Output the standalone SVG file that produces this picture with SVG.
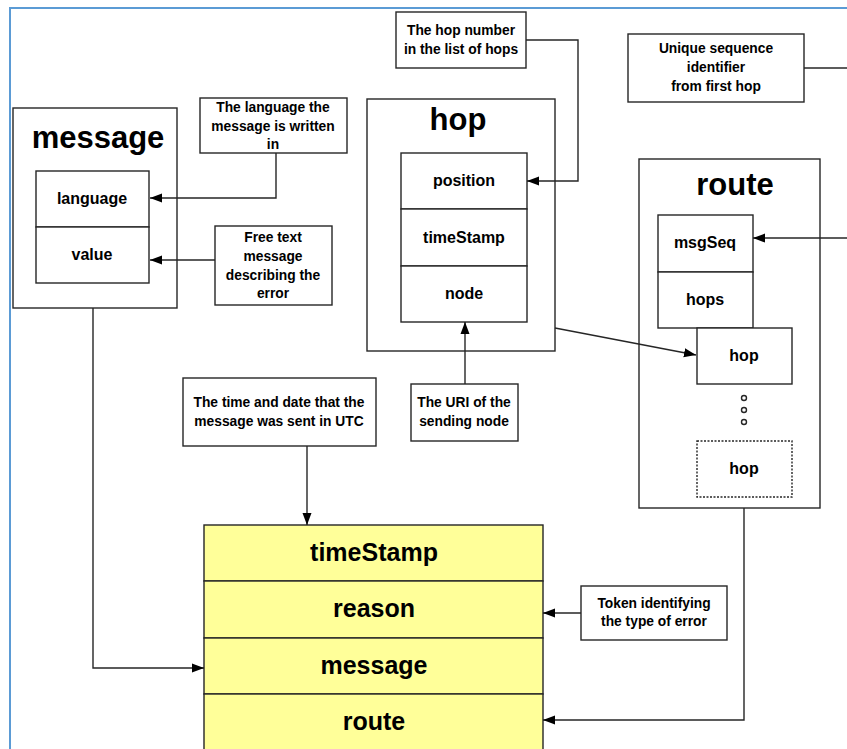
<svg xmlns="http://www.w3.org/2000/svg" width="847" height="749" viewBox="0 0 847 749">
<defs>
<style>
.box{fill:#fff;stroke:#262626;stroke-width:1.4}
.yel{fill:#ffff99;stroke:#262626;stroke-width:1.4}
.dot{fill:#fff;stroke:#262626;stroke-width:1.4;stroke-dasharray:2 1.5}
.ln{fill:none;stroke:#262626;stroke-width:1.4}
text{font-family:"Liberation Sans",Arial,sans-serif;font-weight:bold;fill:#000;text-anchor:middle}
.t1{font-size:31px}
.t2{font-size:16px}
.t3{font-size:25px}
.c{font-size:13.8px}
</style>
<marker id="ah" markerWidth="12" markerHeight="10" refX="12" refY="5" orient="auto" markerUnits="userSpaceOnUse"><path d="M0,0.5 L12,5 L0,9.5 z" fill="#000"/></marker>
</defs>
<rect width="847" height="749" fill="#fff"/>
<rect x="10" y="8" width="900" height="900" fill="none" stroke="#5b9bd5" stroke-width="2"/>

<g id="message">
<rect class="box" x="13" y="108" width="164" height="200"/>
<text class="t1" x="98" y="148">message</text>
<rect class="box" x="36" y="171" width="113" height="56"/>
<text class="t2" x="92" y="204">language</text>
<rect class="box" x="36" y="227" width="113" height="56"/>
<text class="t2" x="92" y="260">value</text>
</g>

<g id="note-language">
<rect class="box" x="200" y="98" width="147" height="55"/>
<text class="c" x="273" y="112">The language the</text>
<text class="c" x="273" y="131">message is written</text>
<text class="c" x="273" y="149">in</text>
</g>

<g id="note-value">
<rect class="box" x="215" y="226" width="117" height="79"/>
<text class="c" x="273" y="242">Free text</text>
<text class="c" x="273" y="261">message</text>
<text class="c" x="273" y="280">describing the</text>
<text class="c" x="273" y="298">error</text>
</g>

<g id="hop">
<rect class="box" x="367" y="99" width="188" height="252"/>
<text class="t1" x="458" y="130">hop</text>
<rect class="box" x="401" y="153" width="126" height="56"/>
<text class="t2" x="464" y="186">position</text>
<rect class="box" x="401" y="209" width="126" height="57"/>
<text class="t2" x="464" y="243">timeStamp</text>
<rect class="box" x="401" y="266" width="126" height="56"/>
<text class="t2" x="464" y="299">node</text>
</g>

<g id="note-position">
<rect class="box" x="396" y="12" width="130" height="56"/>
<text class="c" x="461" y="35">The hop number</text>
<text class="c" x="461" y="54">in the list of hops</text>
</g>

<g id="note-node">
<rect class="box" x="411" y="384" width="107" height="57"/>
<text class="c" x="464" y="407">The URI of the</text>
<text class="c" x="464" y="426">sending node</text>
</g>

<g id="note-msgseq">
<rect class="box" x="628" y="34" width="176" height="68"/>
<text class="c" x="716" y="53">Unique sequence</text>
<text class="c" x="716" y="72">identifier</text>
<text class="c" x="716" y="91">from first hop</text>
</g>

<g id="route">
<rect class="box" x="639" y="159" width="181" height="349"/>
<text class="t1" x="735" y="195">route</text>
<rect class="box" x="658" y="215" width="95" height="57"/>
<text class="t2" x="705" y="248">msgSeq</text>
<rect class="box" x="658" y="272" width="95" height="56"/>
<text class="t2" x="705" y="305">hops</text>
<rect class="box" x="697" y="328" width="95" height="56"/>
<text class="t2" x="744" y="361">hop</text>
<circle class="box" cx="744" cy="398" r="2.5"/>
<circle class="box" cx="744" cy="410" r="2.5"/>
<circle class="box" cx="744" cy="422" r="2.5"/>
<rect class="dot" x="697" y="441" width="95" height="56"/>
<text class="t2" x="744" y="474">hop</text>
</g>

<g id="note-timestamp">
<rect class="box" x="183" y="378" width="193" height="68"/>
<text class="c" x="279" y="407">The time and date that the</text>
<text class="c" x="279" y="426">message was sent in UTC</text>
</g>

<g id="note-reason">
<rect class="box" x="581" y="586" width="146" height="54"/>
<text class="c" x="654" y="608">Token identifying</text>
<text class="c" x="654" y="626">the type of error</text>
</g>

<g id="error">
<rect class="yel" x="204" y="525" width="339" height="56"/>
<text class="t3" x="374" y="561">timeStamp</text>
<rect class="yel" x="204" y="581" width="339" height="57"/>
<text class="t3" x="374" y="617">reason</text>
<rect class="yel" x="204" y="638" width="339" height="56"/>
<text class="t3" x="374" y="674">message</text>
<rect class="yel" x="204" y="694" width="339" height="80"/>
<text class="t3" x="374" y="730">route</text>
</g>

<g id="connectors">
<polyline class="ln" points="276,153 276,198 150,198" marker-end="url(#ah)"/>
<polyline class="ln" points="215,260 150,260" marker-end="url(#ah)"/>
<polyline class="ln" points="93,308 93,668 204,668" marker-end="url(#ah)"/>
<polyline class="ln" points="307,446 307,525" marker-end="url(#ah)"/>
<polyline class="ln" points="526,40 578,40 578,181 527,181" marker-end="url(#ah)"/>
<polyline class="ln" points="465,384 465,322" marker-end="url(#ah)"/>
<polyline class="ln" points="555,328 696,355" marker-end="url(#ah)"/>
<polyline class="ln" points="804,68 847,68"/>
<polyline class="ln" points="847,238 753,238" marker-end="url(#ah)"/>
<polyline class="ln" points="581,613 543,613" marker-end="url(#ah)"/>
<polyline class="ln" points="744,508 744,720 543,720" marker-end="url(#ah)"/>
</g>
</svg>
